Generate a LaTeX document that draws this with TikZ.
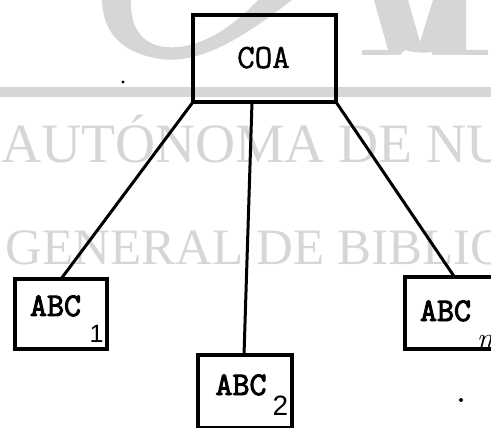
\documentclass[tikz,border=0pt]{standalone}
\usepackage{fontspec}
\newfontfamily\wmfont{Liberation Serif}
\newfontfamily\tyfont{Latin Modern Mono}[FakeBold=1.2]
\newfontfamily\tybold{Latin Modern Mono}[FakeBold=3]
\newfontfamily\subfont{Liberation Sans}
\usetikzlibrary{calc}
\definecolor{wm}{RGB}{214,214,214}
\begin{document}
\begin{tikzpicture}[x=1pt,y=-1pt,
  boxn/.style={draw, line width=4pt, inner sep=0pt, outer sep=0pt, rectangle},
  conn/.style={line width=3pt, line cap=round},
  lab/.style={inner sep=0pt, anchor=base, font=\tybold\fontsize{33}{33}\selectfont},
  sublab/.style={inner sep=0pt, anchor=base, font=\subfont\fontsize{25}{25}\selectfont},
  wmtext/.style={inner sep=0pt, anchor=base west, text=wm},
  speck/.style={fill=black}]
\useasboundingbox (0,0) rectangle (491,428);
\clip (0,0) rectangle (491,428);
% watermark
\fill[wm] (102,0) .. controls (103,30) and (118,52) .. (160,59) .. controls (200,64) and (240,40) .. (292,0)
  -- (258,0) .. controls (228,32) and (195,50) .. (165,47) .. controls (140,44) and (130,25) .. (131,0) -- cycle;
\fill[wm] (374,0) -- (408,0) -- (420,42) -- (433,0) -- (466,0) -- (466,50) -- (488,50) -- (488,55) -- (432,55)
  -- (432,52) .. controls (425,53) and (415,53) .. (405,50) -- (400,55) -- (362,55) -- (362,50) -- (388,50) -- cycle;
\fill[wm] (0,87) rectangle (491,97);
\node[wmtext, font=\wmfont\fontsize{55.5}{55.5}\selectfont] (wm1) at (1,163) {AUTÓNOMA DE NUEVO LEÓN};
\node[wmtext, font=\wmfont\fontsize{51}{51}\selectfont] (wm2) at (5.5,265) {GENERAL DE BIBLIOTECAS};
% boxes
\node[boxn, minimum width=143pt, minimum height=87pt] (coa) at (264.5,58.5) {};
\node[boxn, minimum width=92pt, minimum height=70pt] (abc1) at (61,314) {};
\node[boxn, minimum width=94pt, minimum height=73pt] (abc2) at (245,391.5) {};
\node[boxn, minimum width=95pt, minimum height=72pt] (abcn) at (452.5,313) {};
% texts
\node[inner sep=0pt, anchor=base, font=\tyfont\fontsize{34}{34}\selectfont] (coat) at (263.5,68) {COA};
\node[lab] (t1) at (55.5,316) {ABC};
\node[sublab] (s1) at (96.5,342) {1};
\node[lab] (t2) at (241,395) {ABC};
\node[sublab, font=\subfont\fontsize{28}{28}\selectfont] (s2) at (280.5,415) {2};
\node[lab] (tn) at (445.5,321) {ABC};
\node[sublab, font=\itshape\fontsize{30}{30}\selectfont] (sn) at (485,348) {n};
% connectors
\draw[conn] (coa.south west) -- (abc1.north);
\draw[conn] ([xshift=-12.5pt]coa.south) -- ([xshift=-1pt]abc2.north);
\draw[conn] (coa.south east) -- ([xshift=2pt]abcn.north);
% specks
\fill[speck] (123,82) circle (1.6);
\fill[speck] (461,400) circle (2);
\end{tikzpicture}
\end{document}
